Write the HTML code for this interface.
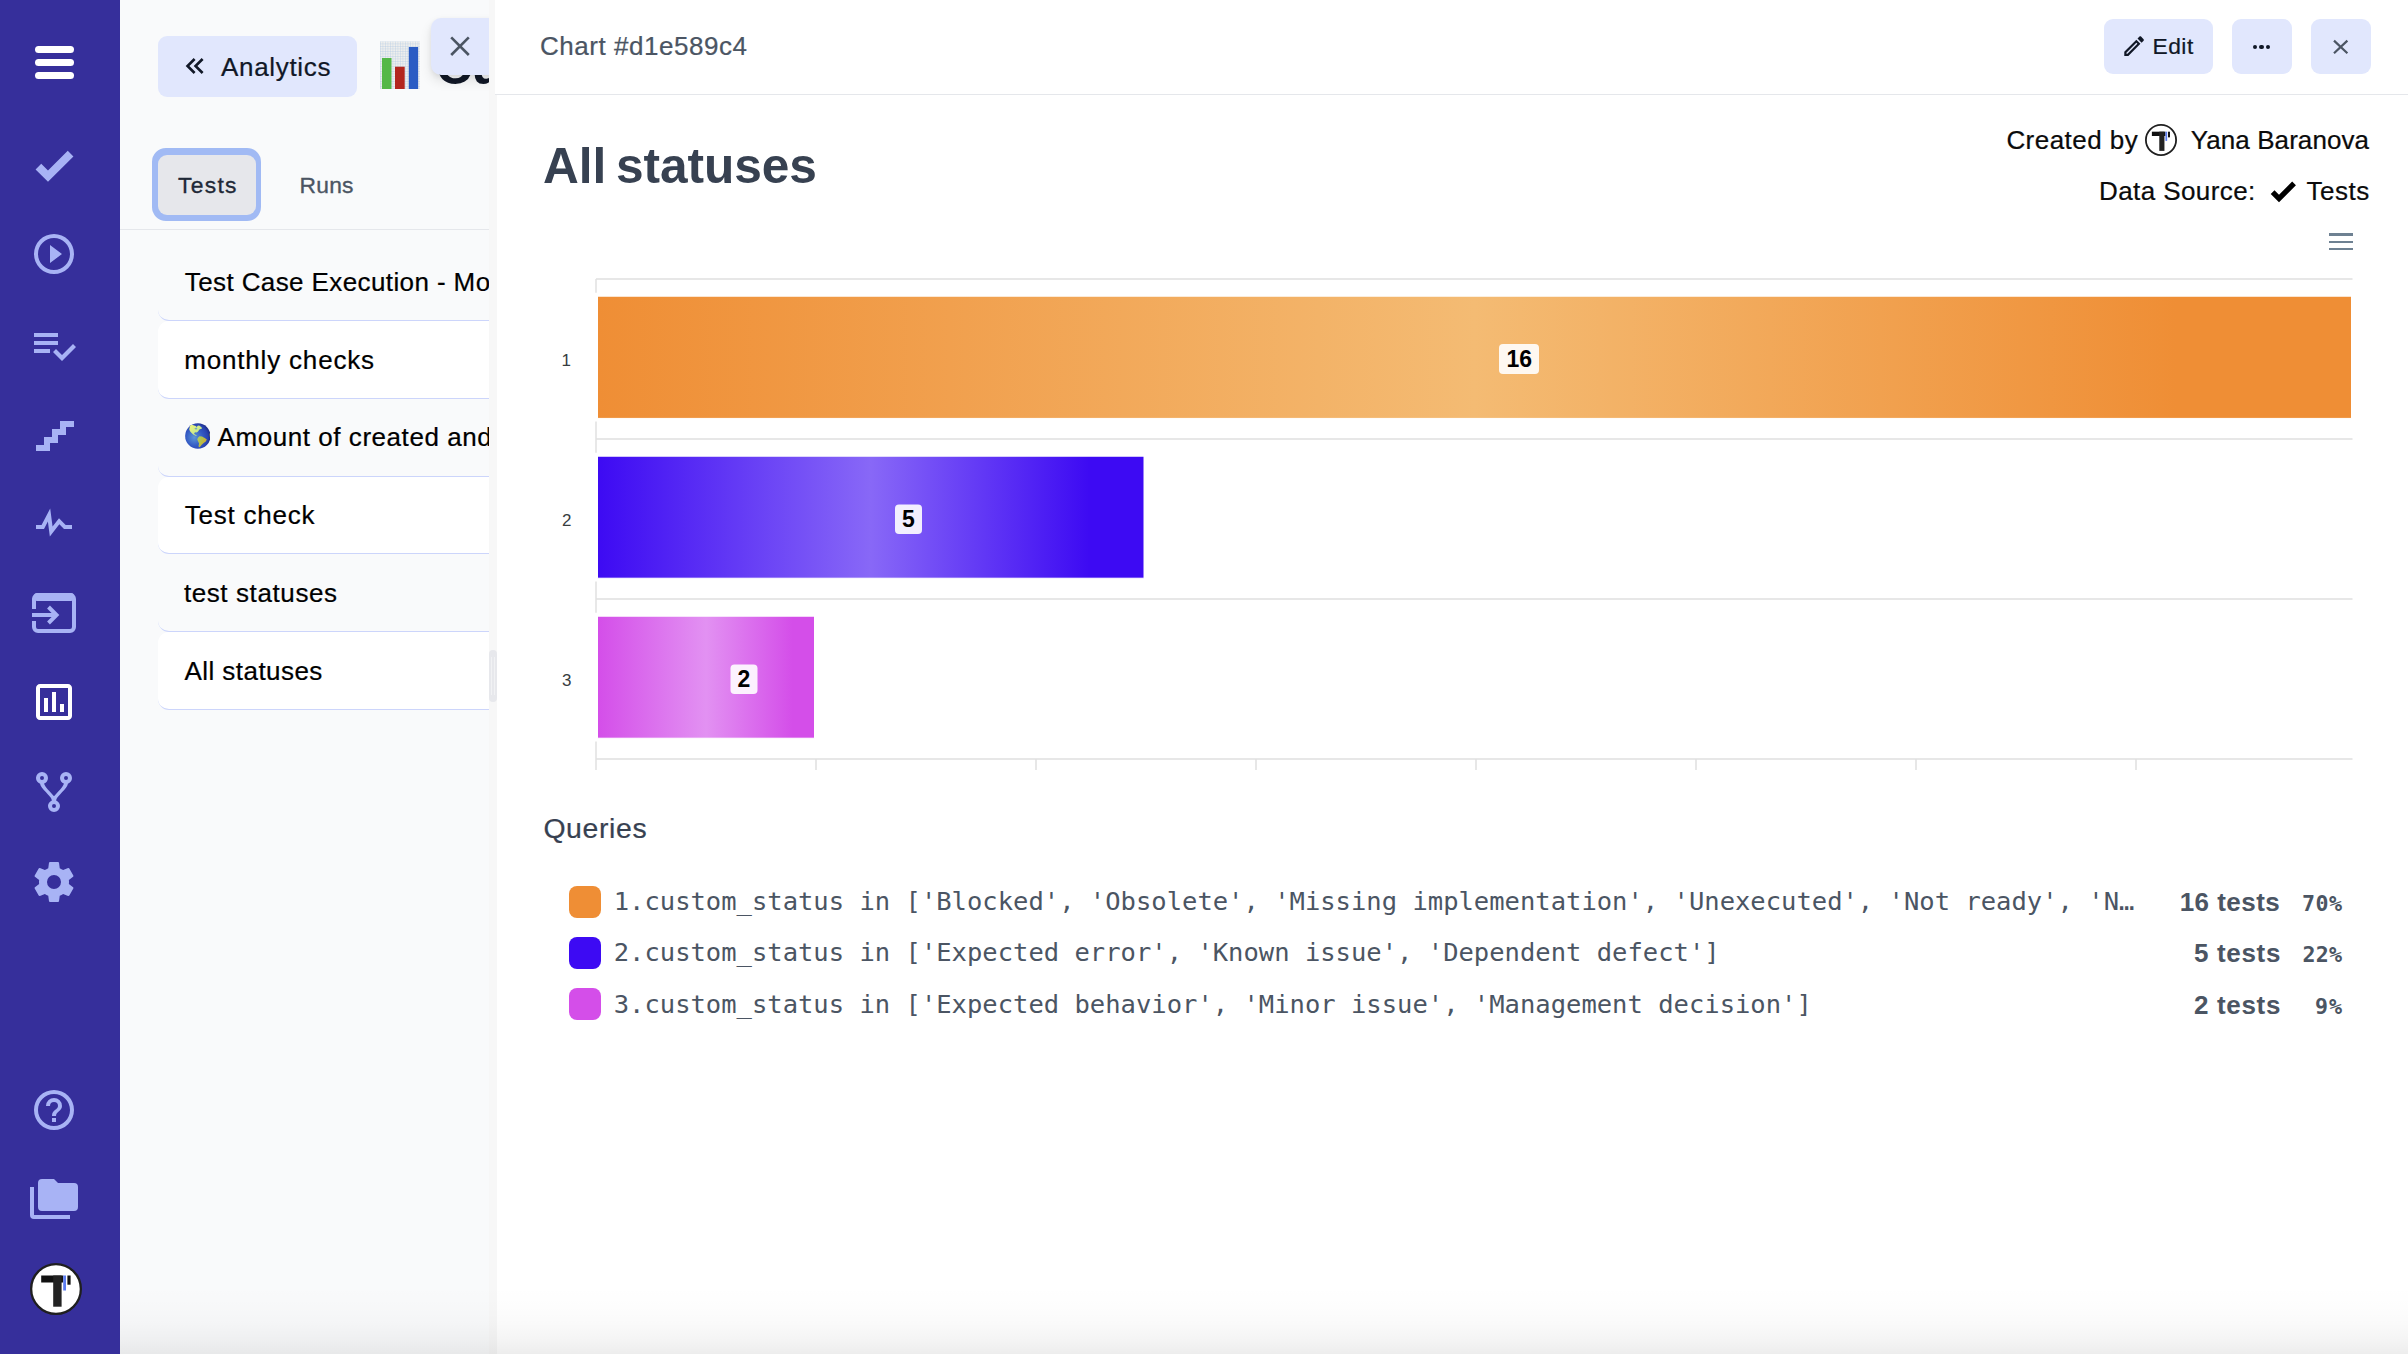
<!DOCTYPE html>
<html lang="en">
<head>
<meta charset="utf-8">
<title>Chart #d1e589c4 - All statuses</title>
<style>
*{box-sizing:border-box;margin:0;padding:0}
html,body{width:2408px;height:1354px;overflow:hidden;background:#fff}
body{font-family:"Liberation Sans",sans-serif;position:relative;color:#000}
.abs{position:absolute}
.t{position:absolute;white-space:nowrap;line-height:1}
.mono{font-family:"DejaVu Sans Mono","Liberation Mono",monospace}
#side{position:absolute;left:0;top:0;width:120px;height:1354px;background:#362f9b;z-index:5}
#lp{position:absolute;left:120px;top:0;width:377px;height:1354px;background:#f9fafb}
#lpc{position:absolute;left:-120px;top:0;width:489px;height:1354px;overflow:hidden}
.row{position:absolute;left:158px;width:400px;height:77.75px;border-bottom:1px solid #ccd5fb;border-radius:0 0 0 11px}
.row.w{background:#fff;border-radius:11px 0 0 11px}
#dp{position:absolute;left:497px;top:0;width:1911px;height:1354px;background:#fff}
.btn{position:absolute;background:#e1e7fd;border-radius:9px}
.sq{position:absolute;left:569px;width:32px;height:32px;border-radius:8px}
</style>
</head>
<body>

<div id="side">
<div class="abs" style="left:35px;top:46px;width:39px;height:7px;border-radius:3.5px;background:#fff"></div>
<div class="abs" style="left:35px;top:59px;width:39px;height:7px;border-radius:3.5px;background:#fff"></div>
<div class="abs" style="left:35px;top:72px;width:39px;height:7px;border-radius:3.5px;background:#fff"></div>
<svg class="abs" style="left:30.00px;top:141.00px;width:48px;height:48px;fill:#a8b3f5" viewBox="0 0 24 24"><path d="M9,20.42L2.79,14.21L5.62,11.38L9,14.77L18.88,4.88L21.71,7.71L9,20.42Z"/></svg>
<svg class="abs" style="left:30.00px;top:230.00px;width:48px;height:48px;fill:#a8b3f5" viewBox="0 0 24 24"><path d="M12,20C7.59,20 4,16.41 4,12C4,7.59 7.59,4 12,4C16.41,4 20,7.59 20,12C20,16.41 16.41,20 12,20M12,2A10,10 0 0,0 2,12A10,10 0 0,0 12,22A10,10 0 0,0 22,12A10,10 0 0,0 12,2M10,16.5L16,12L10,7.5V16.5Z"/></svg>
<svg class="abs" style="left:30.00px;top:321.00px;width:48px;height:48px;fill:#a8b3f5" viewBox="0 0 24 24"><path d="M14,10H2V12H14V10M14,6H2V8H14V6M2,16H10V14H2V16M21.5,11.5L23,13L16,20L11.5,15.5L13,14L16,17L21.5,11.5Z"/></svg>
<svg class="abs" style="left:30.00px;top:411.00px;width:48px;height:48px;fill:#a8b3f5" viewBox="0 0 24 24"><path d="M15,5V9H11V13H7V17H3V20H10V16H14V12H18V8H22V5H15Z"/></svg>
<svg class="abs" style="left:30.00px;top:499.00px;width:48px;height:48px;fill:#a8b3f5" viewBox="0 0 24 24"><path d="M3,13H5.79L10.1,4.79L11.28,13.75L14.5,9.66L17.83,13H21V15H17L14.67,12.67L9.92,18.73L8.94,11.31L7,15H3V13Z"/></svg>
<svg class="abs" style="left:30.00px;top:678.00px;width:48px;height:48px;fill:#fff" viewBox="0 0 24 24"><path d="M9 17H7V10H9V17M13 17H11V7H13V17M17 17H15V13H17V17M19 19H5V5H19V19.1M19 3H5C3.9 3 3 3.9 3 5V19C3 20.1 3.9 21 5 21H19C20.1 21 21 20.1 21 19V5C21 3.9 20.1 3 19 3Z"/></svg>
<svg class="abs" style="left:30.00px;top:768.00px;width:48px;height:48px;fill:#a8b3f5" viewBox="0 0 24 24"><path d="M6,2A3,3 0 0,1 9,5C9,6.28 8.19,7.38 7.06,7.81C7.15,8.27 7.39,8.83 8,9.63C9,10.92 11,12.83 12,14.17C13,12.83 15,10.92 16,9.63C16.61,8.83 16.85,8.27 16.94,7.81C15.81,7.38 15,6.28 15,5A3,3 0 0,1 18,2A3,3 0 0,1 21,5C21,6.32 20.14,7.45 18.95,7.85C18.87,8.37 18.64,9 18,9.83C17,11.17 15,13.08 14,14.38C13.39,15.17 13.15,15.73 13.06,16.19C14.19,16.62 15,17.72 15,19A3,3 0 0,1 12,22A3,3 0 0,1 9,19C9,17.72 9.81,16.62 10.94,16.19C10.85,15.73 10.61,15.17 10,14.38C9,13.08 7,11.17 6,9.83C5.36,9 5.13,8.37 5.05,7.85C3.86,7.45 3,6.32 3,5A3,3 0 0,1 6,2M6,4A1,1 0 0,0 5,5A1,1 0 0,0 6,6A1,1 0 0,0 7,5A1,1 0 0,0 6,4M18,4A1,1 0 0,0 17,5A1,1 0 0,0 18,6A1,1 0 0,0 19,5A1,1 0 0,0 18,4M12,18A1,1 0 0,0 11,19A1,1 0 0,0 12,20A1,1 0 0,0 13,19A1,1 0 0,0 12,18Z"/></svg>
<svg class="abs" style="left:30.00px;top:858.00px;width:48px;height:48px;fill:#a8b3f5" viewBox="0 0 24 24"><path d="M12,15.5A3.5,3.5 0 0,1 8.5,12A3.5,3.5 0 0,1 12,8.5A3.5,3.5 0 0,1 15.5,12A3.5,3.5 0 0,1 12,15.5M19.43,12.97C19.47,12.65 19.5,12.33 19.5,12C19.5,11.67 19.47,11.34 19.43,11L21.54,9.37C21.73,9.22 21.78,8.95 21.66,8.73L19.66,5.27C19.54,5.05 19.27,4.96 19.05,5.05L16.56,6.05C16.04,5.66 15.5,5.32 14.87,5.07L14.5,2.42C14.46,2.18 14.25,2 14,2H10C9.75,2 9.54,2.18 9.5,2.42L9.13,5.07C8.5,5.32 7.96,5.66 7.44,6.05L4.95,5.05C4.73,4.96 4.46,5.05 4.34,5.27L2.34,8.73C2.21,8.95 2.27,9.22 2.46,9.37L4.57,11C4.53,11.34 4.5,11.67 4.5,12C4.5,12.33 4.53,12.65 4.57,12.97L2.46,14.63C2.27,14.78 2.21,15.05 2.34,15.27L4.34,18.73C4.46,18.95 4.73,19.03 4.95,18.95L7.44,17.94C7.96,18.34 8.5,18.68 9.13,18.93L9.5,21.58C9.54,21.82 9.75,22 10,22H14C14.25,22 14.46,21.82 14.5,21.58L14.87,18.93C15.5,18.67 16.04,18.34 16.56,17.94L19.05,18.95C19.27,19.03 19.54,18.95 19.66,18.73L21.66,15.27C21.78,15.05 21.73,14.78 21.54,14.63L19.43,12.97Z"/></svg>
<svg class="abs" style="left:30.00px;top:1086.00px;width:48px;height:48px;fill:#a8b3f5" viewBox="0 0 24 24"><path d="M11,18H13V16H11V18M12,2A10,10 0 0,0 2,12A10,10 0 0,0 12,22A10,10 0 0,0 22,12A10,10 0 0,0 12,2M12,20C7.59,20 4,16.41 4,12C4,7.59 7.59,4 12,4C16.41,4 20,7.59 20,12C20,16.41 16.41,20 12,20M12,6A4,4 0 0,0 8,10H10A2,2 0 0,1 12,8A2,2 0 0,1 14,10C14,12 11,11.75 11,15H13C13,12.75 16,12.5 16,10A4,4 0 0,0 12,6Z"/></svg>
<svg class="abs" style="left:30.00px;top:1175.00px;width:48px;height:48px;fill:#a8b3f5" viewBox="0 0 24 24"><path d="M22,4H14L12,2H6A2,2 0 0,0 4,4V16A2,2 0 0,0 6,18H22A2,2 0 0,0 24,16V6A2,2 0 0,0 22,4M2,6H0V11H0V20A2,2 0 0,0 2,22H20V20H2V6Z"/></svg>
<svg class="abs" style="left:30px;top:589px;width:48px;height:48px" viewBox="0 0 48 48"><path fill="none" stroke="#a8b3f5" stroke-width="4" d="M4,20V10a4,4 0 0 1 4,-4H40a4,4 0 0 1 4,4V38a4,4 0 0 1 -4,4H8a4,4 0 0 1 -4,-4V32"/><rect x="4" y="4" width="40" height="8" rx="3" fill="#a8b3f5"/><path fill="none" stroke="#a8b3f5" stroke-width="4" d="M2,26H26M18.5,18L26.500,26L18.5,34"/></svg>
<svg class="abs" style="left:30.00px;top:1263.00px;width:52px;height:52px" viewBox="0 0 52 52"><circle cx="26" cy="26" r="24.85" fill="#fff" stroke="#1f1f1f" stroke-width="2.30"/><rect x="11.2" y="12.5" width="22" height="7" fill="#111"/><rect x="23.2" y="12.5" width="8.4" height="31.2" fill="#222"/><rect x="33.200" y="12.5" width="2.8" height="15" fill="#5b7cf0"/><rect x="37.4" y="12.5" width="3.2" height="9.2" fill="#111"/></svg>
</div>
<div id="lp"><div id="lpc">
<div class="btn" style="left:158px;top:36px;width:199px;height:61px;border-radius:9px"></div>
<svg class="abs" style="left:179.10px;top:50.40px;width:32px;height:32px;fill:#111827" viewBox="0 0 24 24"><path d="M18.41,7.41L17,6L11,12L17,18L18.41,16.59L13.83,12L18.41,7.41M12.41,7.41L11,6L5,12L11,18L12.41,16.59L7.83,12L12.41,7.41Z"/></svg>
<div class="t" style="left:221.00px;top:54px;font-size:26px;color:#111827;letter-spacing:0.675px;-webkit-text-stroke:0.22px #111827">Analytics</div>
<svg class="abs" style="left:380px;top:41px;width:40px;height:48px" viewBox="0 0 40 48"><defs><pattern id="gr" width="2.5" height="2.5" patternUnits="userSpaceOnUse"><path d="M2.5 0H0V2.5" fill="none" stroke="#a9c4e4" stroke-width="0.600"/></pattern></defs><rect x="0" y="0.5" width="40" height="47.5" fill="#efefed"/><rect x="0" y="0.5" width="40" height="47.5" fill="url(#gr)"/><rect x="2" y="17" width="9.5" height="31" fill="#54b848"/><rect x="15" y="25.700" width="9.7" height="22.3" fill="#b3261e"/><rect x="28.800" y="6" width="9.3" height="42" fill="#2a5cc4"/></svg>
<div class="t" style="left:436.00px;top:42px;font-size:50px;color:#111827;font-weight:700;letter-spacing:-0.5px">Custom charts</div>
<div class="btn" style="left:431px;top:18px;width:70px;height:56.5px;border-radius:10px;box-shadow:0 6px 12px rgba(0,0,0,.10),0 2px 5px rgba(0,0,0,.06)"></div>
<svg class="abs" style="left:447px;top:33px;width:26px;height:26px" viewBox="0 0 26 26"><path d="M4.200,4.400L21.8,22M21.8,4.400L4.200,22" stroke="#4b5563" stroke-width="2.600" fill="none"/></svg>
<div class="abs" style="left:151.700px;top:148.200px;width:109.7px;height:73px;border-radius:14px;background:#a1baf4"></div>
<div class="abs" style="left:158px;top:154.5px;width:97.5px;height:60.5px;border-radius:9px;background:#e6e7eb"></div>
<div class="t" style="left:178.10px;top:174px;font-size:22.8px;color:#1f2937;letter-spacing:1.275px;-webkit-text-stroke:0.35px #1f2937">Tests</div>
<div class="t" style="left:299.50px;top:174px;font-size:22.8px;color:#4b5563;letter-spacing:0.267px;-webkit-text-stroke:0.35px #4b5563">Runs</div>
<div class="abs" style="left:120px;top:228.500px;width:380px;height:1px;background:#e5e7eb"></div>
<div class="row" style="top:243.25px"></div>
<div class="t" style="left:184.80px;top:269px;font-size:26px;color:#000;letter-spacing:0.395px;-webkit-text-stroke:0.22px #000">Test Case Execution - Monthly</div>
<div class="row w" style="top:321.00px"></div>
<div class="t" style="left:184.20px;top:347px;font-size:26px;color:#000;letter-spacing:0.823px;-webkit-text-stroke:0.22px #000">monthly checks</div>
<div class="row" style="top:398.75px"></div>
<svg class="abs" style="left:184.500px;top:422.900px;width:25.700px;height:25.900px" viewBox="0 0 26 26" preserveAspectRatio="none"><defs><radialGradient id="gl" cx="0.36" cy="0.56" r="0.62"><stop offset="0" stop-color="#5b97d6"/><stop offset="0.55" stop-color="#3359c4"/><stop offset="0.85" stop-color="#2a44b0"/><stop offset="1" stop-color="#1f2f8c"/></radialGradient><linearGradient id="gn" x1="0" y1="0" x2="1" y2="1"><stop offset="0" stop-color="#f3f57a"/><stop offset="0.6" stop-color="#c9ea8c"/><stop offset="1" stop-color="#a6d88a"/></linearGradient><linearGradient id="gs" x1="0" y1="0" x2="1" y2="0.6"><stop offset="0" stop-color="#a9cf6a"/><stop offset="0.55" stop-color="#b9bd45"/><stop offset="1" stop-color="#d9a72c"/></linearGradient><filter id="gb" x="-10%" y="-10%" width="120%" height="120%"><feGaussianBlur stdDeviation="0.35"/></filter><clipPath id="gc"><circle cx="13" cy="13" r="12.85"/></clipPath></defs><circle cx="13" cy="13" r="12.85" fill="url(#gl)"/><g clip-path="url(#gc)" filter="url(#gb)"><path d="M5.08,2.32L6.97,1.78L10.75,3.13L11.83,3.94L12.92,2.86L14.27,2.59L16.7,4.21L17.24,5.56L14.54,6.64L13.19,8.53L11.83,9.61L10.75,9.34L9.13,10.15L9.67,11.23L11.56,12.31L11.83,13.12L10.21,12.58L8.32,11.5L6.7,10.15L5.08,8.26L4.27,6.37L4.81,4.21Z" fill="url(#gn)"/><path d="M12.92,15.01L14.54,13.39L17.24,13.66L19.94,15.01L22.1,16.63L21.02,18.52L18.86,20.14L16.7,22.03L15.08,24.19L14.0,24.46L13.73,22.84L14.27,20.68L13.46,18.79L12.37,16.63Z" fill="url(#gs)"/><path d="M24.93,10.15L25.61,11.23L25.93,12.85L25.61,14.47L25.07,13.66L24.8,11.77Z" fill="#9a9a3a"/><path d="M9.5,5.200L12,4.600L12.500,6.200L10.500,6.600Z" fill="#5c9ad0" opacity="0.8"/></g></svg>
<div class="t" style="left:217.60px;top:424px;font-size:26px;color:#000;letter-spacing:0.55px;-webkit-text-stroke:0.22px #000">Amount of created and closed</div>
<div class="row w" style="top:476.50px"></div>
<div class="t" style="left:184.80px;top:502px;font-size:26px;color:#000;letter-spacing:0.756px;-webkit-text-stroke:0.22px #000">Test check</div>
<div class="row" style="top:554.25px"></div>
<div class="t" style="left:183.90px;top:580px;font-size:26px;color:#000;letter-spacing:0.6px;-webkit-text-stroke:0.22px #000">test statuses</div>
<div class="row w" style="top:632.00px"></div>
<div class="t" style="left:184.40px;top:658px;font-size:26px;color:#000;letter-spacing:0.455px;-webkit-text-stroke:0.22px #000">All statuses</div>
</div>
</div>
<div class="abs" style="left:489px;top:0;width:8px;height:1354px;background:#f7f7f7"></div>
<div class="abs" style="left:489px;top:650px;width:8px;height:52px;border-radius:4px;background:#e7e8ec"></div>
<div class="abs" style="left:491px;top:657px;width:1px;height:38px;background:#f1f2f4"></div>
<div class="abs" style="left:494px;top:657px;width:1px;height:38px;background:#f1f2f4"></div>
<div id="dp"></div>
<div class="abs" style="left:495px;top:0;width:1913px;height:94px;background:#fff"></div>
<div class="abs" style="left:495px;top:94px;width:1913px;height:1px;background:#e5e7eb"></div>
<div class="t" style="left:540.00px;top:33px;font-size:26px;color:#4b5563;letter-spacing:0.536px;-webkit-text-stroke:0.22px #4b5563">Chart #d1e589c4</div>
<div class="btn" style="left:2104px;top:19px;width:109px;height:55px"></div>
<svg class="abs" style="left:2121.00px;top:33.40px;width:26.2px;height:26.2px;fill:#111827" viewBox="0 0 24 24"><path d="M14.06,9L15,9.94L5.92,19H5V18.08L14.06,9M17.66,3C17.41,3 17.15,3.1 16.96,3.29L15.13,5.12L18.88,8.87L20.71,7.04C21.1,6.65 21.1,6 20.71,5.63L18.37,3.29C18.17,3.09 17.92,3 17.66,3M14.06,6.19L3,17.25V21H6.750L17.81,9.94L14.06,6.19Z"/></svg>
<div class="t" style="left:2152.40px;top:35px;font-size:22.8px;color:#111827;letter-spacing:0.533px;-webkit-text-stroke:0.22px #111827">Edit</div>
<div class="btn" style="left:2232px;top:19px;width:60px;height:55px"></div>
<div class="abs" style="left:2252.80px;top:44.5px;width:4.6px;height:4.6px;border-radius:50%;background:#111827"></div>
<div class="abs" style="left:2259.40px;top:44.5px;width:4.6px;height:4.6px;border-radius:50%;background:#111827"></div>
<div class="abs" style="left:2265.90px;top:44.5px;width:4.6px;height:4.6px;border-radius:50%;background:#111827"></div>
<div class="btn" style="left:2311px;top:19px;width:60px;height:55px"></div>
<svg class="abs" style="left:2328px;top:34px;width:26px;height:26px" viewBox="0 0 26 26"><path d="M6,6.600L19.400,19.200M19.400,6.600L6,19.200" stroke="#4b5563" stroke-width="2.200" fill="none"/></svg>
<div class="t" style="left:543.00px;top:142px;font-size:49.6px;color:#374151;font-weight:700;letter-spacing:-0.055px;word-spacing:-4px">All statuses</div>
<div class="t" style="left:2006.40px;top:127px;font-size:26px;color:#0b0b0b;letter-spacing:0.456px;-webkit-text-stroke:0.22px #0b0b0b">Created by</div>
<svg class="abs" style="left:2145.00px;top:123.80px;width:32px;height:32px" viewBox="0 0 52 52"><circle cx="26" cy="26" r="24.54" fill="#fff" stroke="#1f1f1f" stroke-width="2.92"/><rect x="11.2" y="12.5" width="22" height="7" fill="#111"/><rect x="23.2" y="12.5" width="8.4" height="31.2" fill="#222"/><rect x="33.200" y="12.5" width="2.8" height="15" fill="#5b7cf0"/><rect x="37.4" y="12.5" width="3.2" height="9.2" fill="#111"/></svg>
<div class="t" style="left:2190.80px;top:127px;font-size:26px;color:#0b0b0b;letter-spacing:0.075px;-webkit-text-stroke:0.22px #0b0b0b">Yana Baranova</div>
<div class="t" style="left:2099.00px;top:178px;font-size:26px;color:#0b0b0b;letter-spacing:0.409px;-webkit-text-stroke:0.22px #0b0b0b">Data Source:</div>
<svg class="abs" style="left:2267.30px;top:175.30px;width:32px;height:32px;fill:#000" viewBox="0 0 24 24"><path d="M9,20.42L2.79,14.21L5.62,11.38L9,14.77L18.88,4.88L21.71,7.71L9,20.42Z"/></svg>
<div class="t" style="left:2306.40px;top:178px;font-size:26px;color:#0b0b0b;letter-spacing:0.575px;-webkit-text-stroke:0.22px #0b0b0b">Tests</div>
<div class="abs" style="left:2328.5px;top:233.4px;width:24.5px;height:2.200px;background:#6e8192"></div>
<div class="abs" style="left:2328.5px;top:240.6px;width:24.5px;height:2.200px;background:#6e8192"></div>
<div class="abs" style="left:2328.5px;top:247.8px;width:24.5px;height:2.200px;background:#6e8192"></div>
<svg class="abs" style="left:540px;top:260px;width:1840px;height:530px" viewBox="540 260 1840 530">
<defs>
<linearGradient id="g1" x1="0" x2="1" y1="0" y2="0"><stop offset="0" stop-color="#ef8e35"/><stop offset="0.5" stop-color="#f4bb73"/><stop offset="0.9" stop-color="#ef8e35"/><stop offset="1" stop-color="#ef8e35"/></linearGradient>
<linearGradient id="g2" x1="0" x2="1" y1="0" y2="0"><stop offset="0" stop-color="#3d0af3"/><stop offset="0.5" stop-color="#8868f7"/><stop offset="0.9" stop-color="#3d0af3"/><stop offset="1" stop-color="#3d0af3"/></linearGradient>
<linearGradient id="g3" x1="0" x2="1" y1="0" y2="0"><stop offset="0" stop-color="#d44ee9"/><stop offset="0.5" stop-color="#e291f2"/><stop offset="0.9" stop-color="#d44ee9"/><stop offset="1" stop-color="#d44ee9"/></linearGradient>
</defs>
<g stroke="#e0e0e0" stroke-width="1.500" fill="none">
<path d="M596,279H2352.500M596,439H2352.500M596,599H2352.500M596,759H2352.500"/>
<path d="M596,279V770"/>
<path d="M816,759V770M1036,759V770M1256,759V770M1476,759V770M1696,759V770M1916,759V770M2136,759V770"/>
</g>
<path d="M593,292.700H600V421.500H593ZM593,452.700H600V581.500H593ZM593,612.700H600V741.500H593Z" fill="#fff"/>
<rect x="597.500" y="296.200" width="1754" height="122.200" fill="url(#g1)" stroke="#fff" stroke-width="1"/>
<rect x="597.500" y="456.200" width="546.500" height="122" fill="url(#g2)" stroke="#fff" stroke-width="1"/>
<rect x="597.500" y="616.200" width="217" height="122" fill="url(#g3)" stroke="#fff" stroke-width="1"/>
<g font-family="Liberation Sans, sans-serif" font-size="17" fill="#373d3f" text-anchor="end">
<text x="571" y="365.500">1</text><text x="571.5" y="525.500">2</text><text x="571.5" y="685.500">3</text>
</g>
<rect x="1499" y="344" width="40" height="30" rx="4" fill="#fff" fill-opacity="0.9"/>
<rect x="895" y="504.500" width="27" height="29.500" rx="4" fill="#fff" fill-opacity="0.9"/>
<rect x="730.500" y="664.500" width="27" height="29.500" rx="4" fill="#fff" fill-opacity="0.9"/>
<g font-family="Liberation Sans, sans-serif" font-size="23" font-weight="700" fill="#000" text-anchor="middle">
<text x="1519.200" y="367.200">16</text><text x="908.500" y="527.200">5</text><text x="744" y="687.200">2</text>
</g>
</svg>
<div class="t" style="left:543.40px;top:814px;font-size:28.4px;color:#374151;letter-spacing:0.633px;-webkit-text-stroke:0.22px #374151">Queries</div>
<div class="sq" style="top:886px;background:#ef8e35"></div>
<div class="t mono" style="left:613.70px;top:889px;font-size:25.5px;color:#4b5563;letter-spacing:0.008px">1.custom_status in ['Blocked', 'Obsolete', 'Missing implementation', 'Unexecuted', 'Not ready', 'N…</div>
<div class="t" style="left:2179.70px;top:889px;font-size:26px;color:#4b5563;font-weight:700;letter-spacing:0.471px">16 tests</div>
<div class="t mono" style="left:2302.00px;top:893px;font-size:21.6px;color:#4b5563;font-weight:700;letter-spacing:0.5px">70%</div>
<div class="sq" style="top:937px;background:#3d0af3"></div>
<div class="t mono" style="left:613.70px;top:940px;font-size:25.5px;color:#4b5563;letter-spacing:0.008px">2.custom_status in ['Expected error', 'Known issue', 'Dependent defect']</div>
<div class="t" style="left:2194.00px;top:940px;font-size:26px;color:#4b5563;font-weight:700;letter-spacing:0.667px">5 tests</div>
<div class="t mono" style="left:2302.50px;top:944px;font-size:21.6px;color:#4b5563;font-weight:700;letter-spacing:0.25px">22%</div>
<div class="sq" style="top:988px;background:#d44ee9"></div>
<div class="t mono" style="left:613.70px;top:992px;font-size:25.5px;color:#4b5563;letter-spacing:0.008px">3.custom_status in ['Expected behavior', 'Minor issue', 'Management decision']</div>
<div class="t" style="left:2194.00px;top:992px;font-size:26px;color:#4b5563;font-weight:700;letter-spacing:0.667px">2 tests</div>
<div class="t mono" style="left:2315.00px;top:996px;font-size:21.6px;color:#4b5563;font-weight:700;letter-spacing:1.0px">9%</div>
<div class="abs" style="left:120px;top:1286px;width:2288px;height:68px;background:linear-gradient(to bottom,rgba(0,0,0,0) 0%,rgba(0,0,0,.006) 30%,rgba(0,0,0,.02) 55%,rgba(0,0,0,.042) 80%,rgba(0,0,0,.07) 100%)"></div>
</body>
</html>
